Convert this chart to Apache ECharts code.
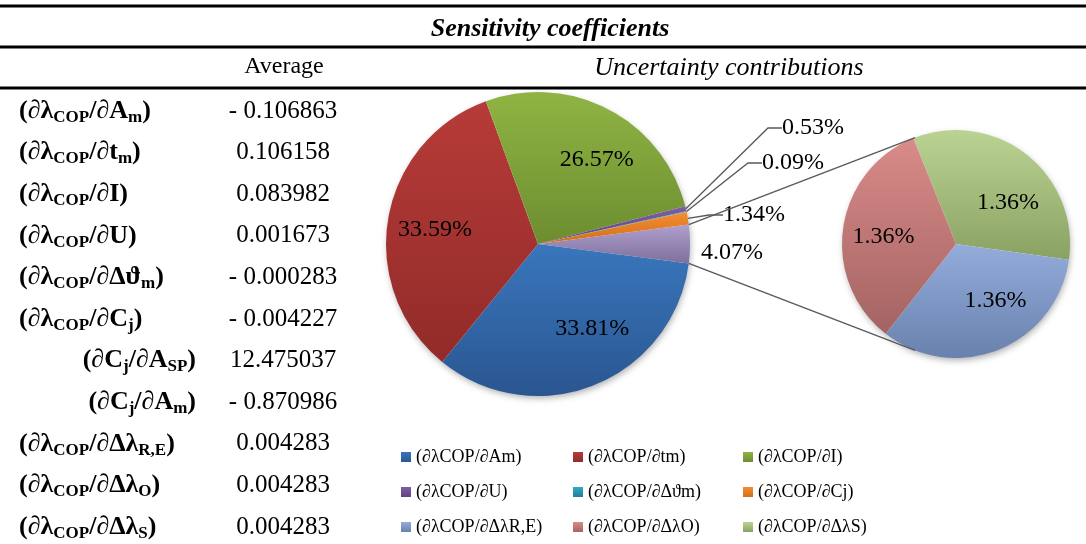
<!DOCTYPE html>
<html><head><meta charset="utf-8">
<script src="https://cdn.jsdelivr.net/npm/echarts@6/dist/echarts.min.js"></script>
<style>html,body{margin:0;padding:0;background:#fff}#c{width:1086px;height:544px}</style>
</head><body><div id="c"></div>
<script>
// ---------------- data ----------------
// table: '_' toggles subscript
const sensLabels = ['(∂λ_COP_/∂A_m_)', '(∂λ_COP_/∂t_m_)', '(∂λ_COP_/∂I)', '(∂λ_COP_/∂U)', '(∂λ_COP_/∂Δϑ_m_)', '(∂λ_COP_/∂C_j_)', '(∂C_j_/∂A_SP_)', '(∂C_j_/∂A_m_)', '(∂λ_COP_/∂Δλ_R,E_)', '(∂λ_COP_/∂Δλ_O_)', '(∂λ_COP_/∂Δλ_S_)'];
const sensAverage = [-0.106863, 0.106158, 0.083982, 0.001673, -0.000283, -0.004227, 12.475037, -0.870986, 0.004283, 0.004283, 0.004283];
const sensIndented = [false, false, false, false, false, false, true, true, false, false, false];

const mainNames = ['Other', '(∂λCOP/∂Am)', '(∂λCOP/∂tm)', '(∂λCOP/∂I)', '(∂λCOP/∂U)', '(∂λCOP/∂Δϑm)', '(∂λCOP/∂Cj)'];
const mainValues = [4.07, 33.81, 33.59, 26.57, 0.53, 0.09, 1.34];
const subNames = ['(∂λCOP/∂ΔλS)', '(∂λCOP/∂ΔλR,E)', '(∂λCOP/∂ΔλO)'];
const subValues = [1.36, 1.36, 1.36];

const legendColumns = [
  ['(∂λCOP/∂Am)', '(∂λCOP/∂U)', '(∂λCOP/∂ΔλR,E)'],
  ['(∂λCOP/∂tm)', '(∂λCOP/∂Δϑm)', '(∂λCOP/∂ΔλO)'],
  ['(∂λCOP/∂I)', '(∂λCOP/∂Cj)', '(∂λCOP/∂ΔλS)']
];

// ---------------- styles / layout ----------------
const FONT = '"Liberation Serif", "Times New Roman", serif';
const colorPairs = {
  'Other': ['#AE9FCC', '#7F6F9C'],
  '(∂λCOP/∂Am)': ['#3976BC', '#2A5690'],
  '(∂λCOP/∂tm)': ['#B73B38', '#912B29'],
  '(∂λCOP/∂I)': ['#8FB443', '#6D8D30'],
  '(∂λCOP/∂U)': ['#7E5FA2', '#5D4580'],
  '(∂λCOP/∂Δϑm)': ['#34A8C8', '#247D96'],
  '(∂λCOP/∂Cj)': ['#F58D30', '#CF6F1D'],
  '(∂λCOP/∂ΔλR,E)': ['#93ACDA', '#6881AD'],
  '(∂λCOP/∂ΔλO)': ['#D98B89', '#A36362'],
  '(∂λCOP/∂ΔλS)': ['#BBD392', '#89A263']
};
function grad(name) {
  const c = colorPairs[name];
  return new echarts.graphic.LinearGradient(0, 0, 0, 1, [{offset: 0, color: c[0]}, {offset: 1, color: c[1]}]);
}
const mainCenter = [538, 244], mainR = 152;
const subCenter = [956, 244], subR = 114, subStart = 112;

// label placement (styling)
const mainInsideOffsets = {1: [25, 11], 2: [-25, -1], 3: [22, -14]};
const mainOutsidePos = {0: [701, 253], 4: [782, 128], 5: [762, 163], 6: [723, 215]};
const subOffsets = [[15, 6], [17, 1], [-13, 1]];

const mainTotal = mainValues.reduce((a, b) => a + b, 0);
const mainStart = mainValues[0] / mainTotal * 180;

const pctFmt = p => p.value.toFixed(2) + '%';
const labelBase = {color: '#000', fontFamily: FONT, fontSize: 24};

const mainData = mainNames.map((n, i) => {
  const inside = mainInsideOffsets[i];
  return {
    name: n, value: mainValues[i],
    itemStyle: {color: grad(n)},
    label: inside ? {position: 'inside', offset: inside} : {position: 'outside'},
    labelLine: {show: !inside && i !== 0, length: 8, length2: 14, smooth: false,
      lineStyle: {color: '#595959', width: 1.3}}
  };
});
const subData = subNames.map((n, i) => ({
  name: n, value: subValues[i], itemStyle: {color: grad(n)},
  label: {position: 'inside', offset: subOffsets[i]}
}));

// connectors: tangents from main pie "Other" edge points to secondary pie
const a = mainStart * Math.PI / 180;
function tangent(sign) {
  const px = mainCenter[0] + mainR * Math.cos(a);
  const py = mainCenter[1] - sign * mainR * Math.sin(a);
  const dx = px - subCenter[0], dy = -(py - subCenter[1]);
  const d = Math.hypot(dx, dy);
  const phi = Math.atan2(dy, dx);
  const alpha = Math.acos(subR / d);
  const t = sign > 0 ? phi - alpha : phi + alpha;
  return {x1: px, y1: py, x2: subCenter[0] + subR * Math.cos(t), y2: subCenter[1] - subR * Math.sin(t)};
}

// table graphics
function richText(s) {
  return s.split('_').map((p, i) => p ? '{' + (i % 2 ? 's' : 'b') + '|' + p + '}' : '').join('');
}
function fmtVal(v) {
  return (v < 0 ? '- ' : '') + Math.abs(v).toFixed(6);
}
const rowTop = 111, rowStep = 41.6;
const tableRich = {
  b: {fontFamily: FONT, fontWeight: 'bold', fontSize: 26, lineHeight: 30, fill: '#000'},
  s: {fontFamily: FONT, fontWeight: 'bold', fontSize: 17, lineHeight: 17, padding: [13, 0, 0, 0], fill: '#000'}
};
function txt(x, y, text, font, align) {
  return {type: 'text', x: x, y: y, silent: true,
    style: {text: text, font: font, fill: '#000', align: align || 'center', textAlign: align || 'center',
      verticalAlign: 'middle', textVerticalAlign: 'middle'}};
}
const graphics = [];
// soft shadows under the two pies
[[mainCenter, mainR], [subCenter, subR]].forEach(([c, r]) => graphics.push({type: 'circle', silent: true, z: -1,
  shape: {cx: c[0], cy: c[1], r: r - 1},
  style: {fill: '#fff', shadowBlur: 7, shadowOffsetX: 1, shadowOffsetY: 3, shadowColor: 'rgba(0,0,0,0.35)'}}));
[6, 47, 88].forEach(y => graphics.push({type: 'line', silent: true,
  shape: {x1: 0, y1: y, x2: 1086, y2: y}, style: {stroke: '#000', lineWidth: 3}}));
graphics.push(txt(550, 29, 'Sensitivity coefficients', 'italic bold 26px ' + FONT));
graphics.push(txt(284, 67, 'Average', '24px ' + FONT));
graphics.push(txt(729, 68, 'Uncertainty contributions', 'italic 26px ' + FONT));
sensLabels.forEach((lab, i) => {
  const y = rowTop + i * rowStep;
  const ind = sensIndented[i];
  graphics.push({type: 'text', x: ind ? 196 : 19, y: y, silent: true,
    style: {text: richText(lab), rich: tableRich, align: ind ? 'right' : 'left', textAlign: ind ? 'right' : 'left',
      verticalAlign: 'middle', textVerticalAlign: 'middle', fill: '#000'}});
  graphics.push(txt(283, y, fmtVal(sensAverage[i]), '25px ' + FONT));
});
[tangent(1), tangent(-1)].forEach(s => graphics.push({type: 'line', silent: true, z: 10,
  shape: s, style: {stroke: '#595959', lineWidth: 1.4}}));

const chart = echarts.init(document.getElementById('c'), null, {renderer: 'canvas'});
chart.setOption({
  animation: false,
  backgroundColor: '#fff',
  legend: legendColumns.map((names, i) => ({
    data: names, orient: 'vertical', left: [401, 573, 743][i], top: 447, padding: 0,
    itemGap: 15, itemWidth: 10, itemHeight: 10, icon: 'rect', selectedMode: false,
    textStyle: {fontFamily: FONT, fontSize: 18, color: '#000', lineHeight: 20}
  })),
  graphic: {elements: graphics},
  series: [
    {
      type: 'pie', center: mainCenter, radius: mainR, startAngle: mainStart, clockwise: true,
      avoidLabelOverlap: false, silent: true,
      itemStyle: {borderWidth: 0},
      label: Object.assign({show: true, formatter: pctFmt}, labelBase),
      labelLayout: function (params) {
        const p = mainOutsidePos[params.dataIndex];
        if (!p) return {};
        return {x: p[0], y: p[1], align: 'left', verticalAlign: 'middle'};
      },
      data: mainData
    },
    {
      type: 'pie', center: subCenter, radius: subR, startAngle: subStart, clockwise: true,
      avoidLabelOverlap: false, silent: true,
      itemStyle: {borderWidth: 0},
      label: Object.assign({show: true, formatter: pctFmt}, labelBase),
      labelLine: {show: false},
      data: subData
    }
  ]
});
</script></body></html>
